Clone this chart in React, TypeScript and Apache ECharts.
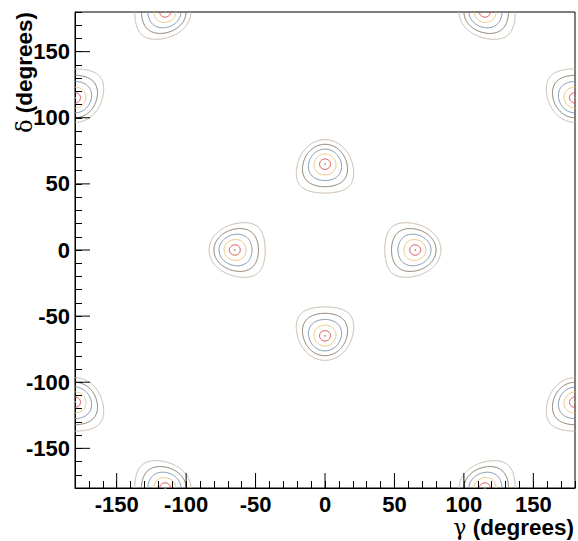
import React, { useEffect, useRef } from 'react';
import * as echarts from 'echarts';

// Fitted solution (gamma, delta) in degrees; the likelihood has its
// symmetric images at the other peaks.
const fitGamma = 65;
const fitDelta = 0;
// Contour levels of the chi-square-like function and their colours (inner to outer)
const contourLevels = [0.0077, 0.031, 0.069, 0.123, 0.19];
const contourColors = ['#e04848', '#f0c47c', '#7892aa', '#857868', '#c6b8ab'];
// Positions of the peak centres (gamma, delta)
const peakGamma = [-65, 65, 0, 0, -115, 115, -115, 115, -180, -180, 180, 180];
const peakDelta = [0, 0, 65, -65, 180, 180, -180, -180, 115, -115, 115, -115];
// Axis ticks
const majorTicks = [-150, -100, -50, 0, 50, 100, 150];
const axisMin = -180;
const axisMax = 180;
const gridStep = 0.5;

const RAD = Math.PI / 180;
const c1 = Math.cos((fitGamma + fitDelta) * RAD);
const c2 = Math.cos((fitGamma - fitDelta) * RAD);
function chi2(g: number, d: number) {
  const a = Math.cos((g + d) * RAD) - c1;
  const b = Math.cos((g - d) * RAD) - c2;
  return a * a + b * b;
}

function buildField() {
  const n = Math.round((axisMax - axisMin) / gridStep) + 1;
  const f = new Float64Array(n * n);
  for (let i = 0; i < n; i++) {
    const g = axisMin + i * gridStep;
    for (let j = 0; j < n; j++) {
      const d = axisMin + j * gridStep;
      f[i * n + j] = chi2(g, d);
    }
  }
  return { n, f };
}

function contourLines(field: { n: number; f: Float64Array }, L: number) {
  const { n, f } = field;
  const h = gridStep;
  const adj = new Map<number, number[]>();
  const pos = new Map<number, number[]>();
  const hKey = (i: number, j: number) => (i * n + j) * 2;
  const vKey = (i: number, j: number) => (i * n + j) * 2 + 1;
  const edgePoint = (key: number, ia: number, ja: number, ib: number, jb: number) => {
    if (!pos.has(key)) {
      const a = f[ia * n + ja];
      const b = f[ib * n + jb];
      const t = (L - a) / (b - a);
      pos.set(key, [axisMin + (ia + (ib - ia) * t) * h, axisMin + (ja + (jb - ja) * t) * h]);
    }
    return key;
  };
  const push = (a: number, b: number) => {
    let arr = adj.get(a);
    if (!arr) {
      arr = [];
      adj.set(a, arr);
    }
    arr.push(b);
  };
  const link = (a: number, b: number) => {
    push(a, b);
    push(b, a);
  };
  for (let i = 0; i < n - 1; i++) {
    for (let j = 0; j < n - 1; j++) {
      const f0 = f[i * n + j];
      const f1 = f[(i + 1) * n + j];
      const f2 = f[(i + 1) * n + j + 1];
      const f3 = f[i * n + j + 1];
      const in0 = f0 < L, in1 = f1 < L, in2 = f2 < L, in3 = f3 < L;
      if (in0 === in1 && in1 === in2 && in2 === in3) continue;
      const e: number[] = [];
      if (in0 !== in1) e.push(edgePoint(hKey(i, j), i, j, i + 1, j));
      if (in1 !== in2) e.push(edgePoint(vKey(i + 1, j), i + 1, j, i + 1, j + 1));
      if (in3 !== in2) e.push(edgePoint(hKey(i, j + 1), i, j + 1, i + 1, j + 1));
      if (in0 !== in3) e.push(edgePoint(vKey(i, j), i, j, i, j + 1));
      if (e.length === 2) link(e[0], e[1]);
      else if (e.length === 4) {
        const center = (f0 + f1 + f2 + f3) / 4;
        if ((center < L) === in0) {
          link(e[0], e[1]);
          link(e[2], e[3]);
        } else {
          link(e[0], e[3]);
          link(e[1], e[2]);
        }
      }
    }
  }
  const used = new Set<number>();
  const lines: number[][][] = [];
  const walk = (start: number) => {
    const line = [pos.get(start)!];
    used.add(start);
    let cur = start;
    for (;;) {
      const nbs = adj.get(cur)!;
      const nb = nbs.find((k) => !used.has(k));
      if (nb === undefined) {
        if (line.length > 2 && nbs.includes(start)) line.push(pos.get(start)!);
        break;
      }
      used.add(nb);
      line.push(pos.get(nb)!);
      cur = nb;
    }
    lines.push(line);
  };
  for (const [k, v] of adj) if (v.length === 1 && !used.has(k)) walk(k);
  for (const k of adj.keys()) if (!used.has(k)) walk(k);
  return lines;
}

const FONT = 'Liberation Sans, Arial, Helvetica, sans-serif';

export default function App() {
  const ref = useRef<HTMLDivElement>(null);
  useEffect(() => {
    if (!ref.current) return;
    const chart = echarts.init(ref.current, undefined, { renderer: 'svg' });
    const field = buildField();
    const contourSeries = contourLevels.map((L, k) => {
      const lines = contourLines(field, L);
      return {
        type: 'custom',
        coordinateSystem: 'cartesian2d',
        silent: true,
        clip: true,
        z: 2,
        data: lines.map((l) => l[0]),
        renderItem: (params: any, api: any) => ({
          type: 'polyline',
          shape: { points: lines[params.dataIndex].map((p) => api.coord(p)) },
          style: { stroke: contourColors[k], fill: 'none', lineWidth: 1 },
        }),
      };
    });
    const axisCommon = {
      type: 'value',
      min: axisMin,
      max: axisMax,
      interval: 10,
      axisLine: { show: true, onZero: false, lineStyle: { color: '#000', width: 1 } },
      axisTick: { show: true, inside: true, length: 7, lineStyle: { color: '#000', width: 1 } },
      splitLine: { show: false },
      axisLabel: {
        formatter: (v: number) => (v % 50 === 0 && Math.abs(v) < 180 ? String(v) : ''),
        fontFamily: FONT,
        fontWeight: 'bold',
        fontSize: 22,
        color: '#000',
        margin: 5,
      },
    };
    const titleStyle = (t: string) => ({
      text: `{g|${t}} (degrees)`,
      align: 'right',
      verticalAlign: 'middle',
      font: `bold 22.5px ${FONT}`,
      fill: '#000',
      rich: { g: { fontFamily: 'DejaVu Serif', fontWeight: 'normal', fontSize: 22, fill: '#000' } },
    });
    chart.setOption({
      animation: false,
      grid: {
        left: 75,
        right: 3,
        top: 12,
        bottom: 53,
        show: true,
        borderColor: '#000',
        borderWidth: 1,
        backgroundColor: 'transparent',
      },
      xAxis: { ...axisCommon },
      yAxis: { ...axisCommon },
      graphic: [
        { type: 'text', x: 574, y: 527, style: titleStyle('γ') },
        { type: 'text', x: 24, y: 12, rotation: Math.PI / 2, style: titleStyle('δ') },
      ],
      series: [
        ...contourSeries,
        {
          type: 'scatter',
          silent: true,
          symbolSize: 2,
          itemStyle: { color: '#999' },
          data: peakGamma.map((g, i) => [g, peakDelta[i]]),
          z: 3,
        },
        {
          type: 'custom',
          silent: true,
          clip: false,
          z: 5,
          data: majorTicks.map((v) => [v, axisMin]),
          renderItem: (params: any, api: any) => {
            const p = api.coord([api.value(0), api.value(1)]);
            return { type: 'line', shape: { x1: p[0], y1: p[1], x2: p[0], y2: p[1] - 15 }, style: { stroke: '#000', lineWidth: 1 } };
          },
        },
        {
          type: 'custom',
          silent: true,
          clip: false,
          z: 5,
          data: majorTicks.map((v) => [axisMin, v]),
          renderItem: (params: any, api: any) => {
            const p = api.coord([api.value(0), api.value(1)]);
            return { type: 'line', shape: { x1: p[0], y1: p[1], x2: p[0] + 15, y2: p[1] }, style: { stroke: '#000', lineWidth: 1 } };
          },
        },
      ],
    } as any);
    return () => chart.dispose();
  }, []);
  return <div ref={ref} style={{ position: 'absolute', left: 0, top: 0, width: 578, height: 541 }} />;
}
